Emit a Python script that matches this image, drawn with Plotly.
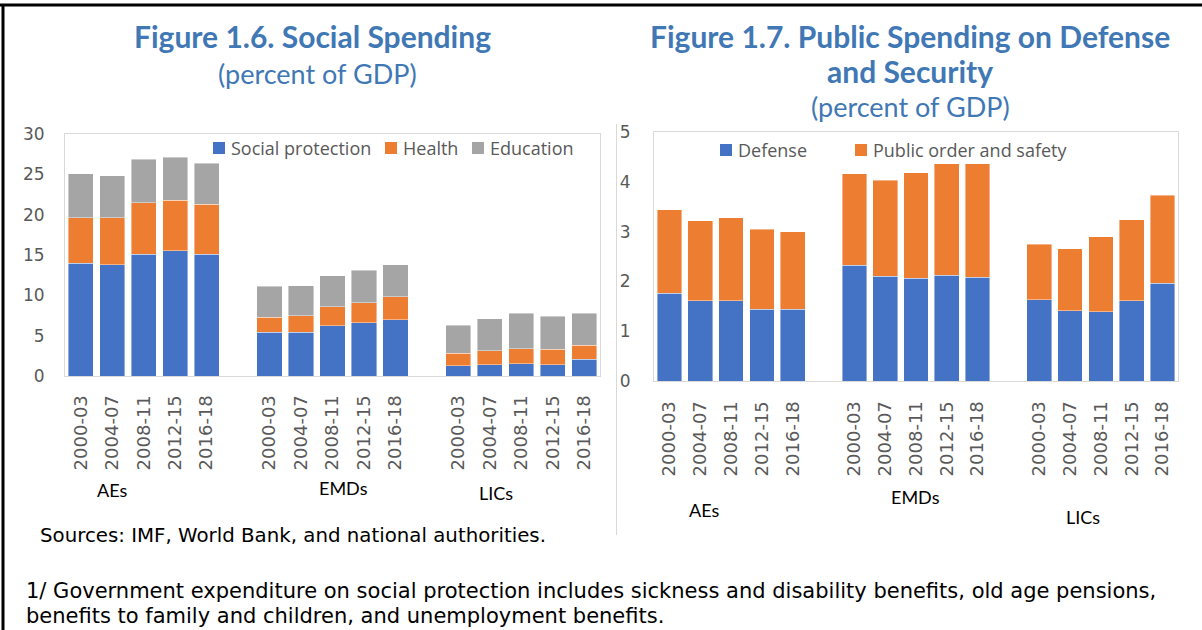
import plotly.graph_objects as go

# ---- data -------------------------------------------------------------
periods = ["2000-03", "2004-07", "2008-11", "2012-15", "2016-18"]
groups = ["AEs", "EMDs", "LICs"]

# Figure 1.6 – social spending, percent of GDP (AEs, EMDs, LICs in order)
social_protection = [14.0, 13.8, 15.1, 15.5, 15.1, 5.4, 5.4, 6.2, 6.6, 7.0, 1.3, 1.4, 1.5, 1.4, 2.1]
health = [5.6, 5.8, 6.4, 6.3, 6.2, 1.9, 2.1, 2.4, 2.5, 2.8, 1.5, 1.7, 1.9, 1.9, 1.7]
education = [5.5, 5.2, 5.4, 5.3, 5.1, 3.8, 3.7, 3.8, 4.0, 4.0, 3.5, 4.0, 4.4, 4.1, 4.0]

# Figure 1.7 – defense and security, percent of GDP
defense = [1.76, 1.61, 1.61, 1.44, 1.44, 2.32, 2.10, 2.06, 2.12, 2.08, 1.63, 1.41, 1.39, 1.61, 1.96]
public_order = [1.68, 1.61, 1.67, 1.61, 1.56, 1.84, 1.93, 2.12, 2.24, 2.28, 1.12, 1.25, 1.51, 1.63, 1.77]

social_series = [("Social protection", social_protection, "#4472C4"),
                 ("Health", health, "#ED7D31"),
                 ("Education", education, "#A5A5A5")]
defense_series = [("Defense", defense, "#4472C4"),
                  ("Public order and safety", public_order, "#ED7D31")]

# ---- layout helpers -----------------------------------------------------
W, H = 1202, 630
TOP, SPAN = 10, 610          # pixel band that the paper area occupies vertically
px = lambda x: x / W
py = lambda y: 1 - (y - TOP) / SPAN

# one empty slot between country groups
xpos = [g * (len(periods) + 1) + i for g in range(len(groups)) for i in range(len(periods))]
ticktext = periods * len(groups)
xrange_ = [-0.5, len(groups) * (len(periods) + 1) - 1.5]

TITLE_BLUE = "#3F78B4"
TICK_GREY = "#595959"
YTICK_FONT = dict(family="DejaVu Sans", size=17, color=TICK_GREY)
XTICK_FONT = dict(family="DejaVu Sans", size=18, color=TICK_GREY)

fig = go.Figure()

for name, vals, color in social_series:
    fig.add_trace(go.Bar(x=xpos, y=vals, name=name, marker_color=color,
                         marker_line=dict(color="rgba(255,255,255,0.7)", width=0.6),
                         width=0.8, xaxis="x", yaxis="y", showlegend=False))
for name, vals, color in defense_series:
    fig.add_trace(go.Bar(x=xpos, y=vals, name=name, marker_color=color,
                         marker_line=dict(color="rgba(255,255,255,0.7)", width=0.6),
                         width=0.8, xaxis="x2", yaxis="y2", showlegend=False))

axis_common = dict(showgrid=False, zeroline=False, showline=True, mirror=True,
                   linecolor="#D9D9D9", linewidth=1, ticks="")

fig.update_layout(
    width=W, height=H, margin=dict(l=0, r=0, t=0, b=0),
    paper_bgcolor="white", plot_bgcolor="white",
    barmode="stack", showlegend=False,
    xaxis=dict(domain=[px(65), px(600)], range=xrange_, tickvals=xpos, ticktext=ticktext,
               tickangle=-90, tickfont=XTICK_FONT, ticklabelstandoff=11, **axis_common),
    yaxis=dict(domain=[py(376), py(134)], range=[0, 30], dtick=5,
               tickfont=YTICK_FONT, ticklabelstandoff=16, **axis_common),
    xaxis2=dict(domain=[px(654), px(1178)], range=xrange_, tickvals=xpos, ticktext=ticktext,
                tickangle=-90, tickfont=XTICK_FONT, ticklabelstandoff=12, anchor="y2", **axis_common),
    yaxis2=dict(domain=[py(381), py(132)], range=[0, 5], dtick=1,
                tickfont=YTICK_FONT, ticklabelstandoff=19, anchor="x2", **axis_common),
)

ann = []


def text(x, y, s, size, color="black", family="DejaVu Sans", anchor="center", bold=False):
    ann.append(dict(xref="paper", yref="paper", x=px(x), y=py(y), text=f"<b>{s}</b>" if bold else s,
                    showarrow=False, xanchor=anchor, yanchor="middle",
                    font=dict(family=family, size=size, color=color)))


# titles
text(312, 36, "Figure 1.6. Social Spending", 30, TITLE_BLUE, "Lato", bold=True)
text(317, 73, "(percent of GDP)", 27, TITLE_BLUE, "Lato")
text(910, 36, "Figure 1.7. Public Spending on Defense", 30, TITLE_BLUE, "Lato", bold=True)
text(910, 71, "and Security", 30, TITLE_BLUE, "Lato", bold=True)
text(910, 106, "(percent of GDP)", 27, TITLE_BLUE, "Lato")

# group labels under the period ticks
for (x, y), g in zip([(112, 490), (343, 488), (496, 493)], groups):
    text(x, y, g, 18, "black", "Lato")
for (x, y), g in zip([(704, 510), (915, 497), (1083, 517)], groups):
    text(x, y, g, 18, "black", "Lato")

# legends
shapes = []


def legend_entry(sx, sy, label):
    name, _, color = label
    shapes.append(dict(type="rect", xref="paper", yref="paper",
                       x0=px(sx - 6), x1=px(sx + 6), y0=py(sy + 6), y1=py(sy - 6),
                       fillcolor=color, line=dict(width=0)))
    text(sx + 10, sy, name, 18, TICK_GREY, "Open Sans", anchor="left")


for sx, s in zip([219, 391, 478], social_series):
    legend_entry(sx, 148, s)
for sx, s in zip([726, 861], defense_series):
    legend_entry(sx, 150, s)

# notes
text(38, 535, "Sources: IMF, World Bank, and national authorities.", 19.8, "black", anchor="left")
text(24, 591, "1/ Government expenditure on social protection includes sickness and disability benefits, old age pensions,",
     21, "black", anchor="left")
text(24, 616, "benefits to family and children, and unemployment benefits.", 21, "black", anchor="left")

# frame lines
shapes += [
    dict(type="line", xref="paper", yref="paper", x0=0, x1=1, y0=py(5), y1=py(5),
         line=dict(color="black", width=3)),
    dict(type="line", xref="paper", yref="paper", x0=px(3), x1=px(3), y0=py(5), y1=py(632),
         line=dict(color="black", width=3)),
    dict(type="line", xref="paper", yref="paper", x0=px(616.5), x1=px(616.5), y0=py(124), y1=py(535),
         line=dict(color="#D9D9D9", width=1)),
]

fig.update_layout(annotations=ann, shapes=shapes)
fig.write_html("out.html")
